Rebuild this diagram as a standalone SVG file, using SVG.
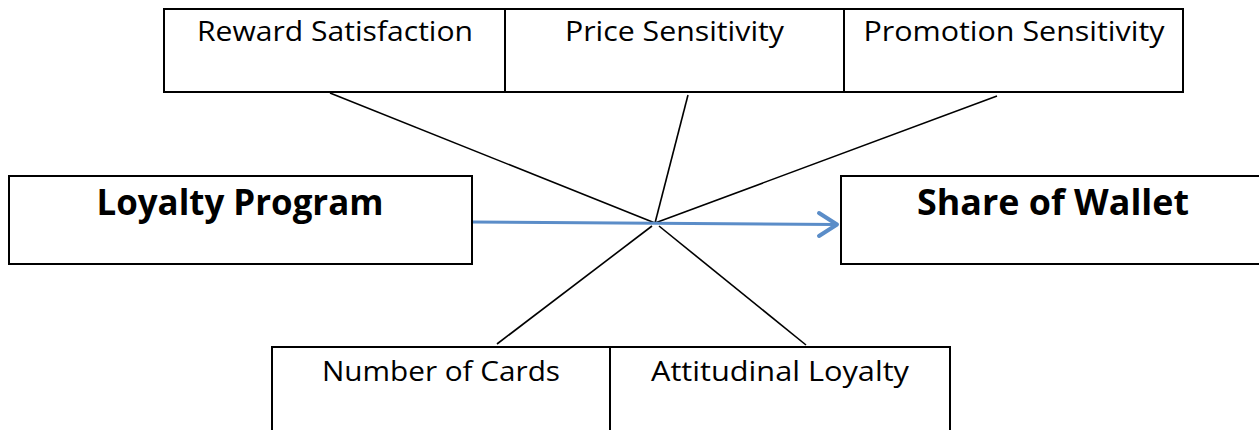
<svg xmlns="http://www.w3.org/2000/svg" width="1259" height="430" viewBox="0 0 1259 430">
  <style>
    .box { fill: #ffffff; stroke: #000000; stroke-width: 2; }
    .lbl { font-family: "Open Sans", "Liberation Sans", sans-serif; font-size: 28px; fill: #000000; text-anchor: middle; }
    .big { font-family: "Open Sans", "Liberation Sans", sans-serif; font-size: 36px; font-weight: bold; fill: #000000; text-anchor: middle; }
    .link { stroke: #000000; stroke-width: 1.6; fill: none; }
    .flow { stroke: #5B8DC8; stroke-width: 2.8; fill: none; }
    .head { stroke: #5B8DC8; stroke-width: 4; fill: none; stroke-linecap: round; stroke-linejoin: round; }
  </style>

  <!-- connectors: moderators meeting the main path -->
  <g id="connectors">
    <line class="link" x1="330" y1="93" x2="655" y2="223"/>
    <line class="link" x1="688" y1="95" x2="655" y2="223"/>
    <line class="link" x1="997" y1="96" x2="655" y2="223"/>
    <line class="link" x1="652" y1="226" x2="497" y2="344"/>
    <line class="link" x1="659" y1="226" x2="806" y2="345"/>
    <line class="flow" x1="472" y1="222" x2="836" y2="224.5"/>
    <polyline class="head" points="819,213 837,224.5 819,236"/>
  </g>

  <g id="reward-satisfaction">
    <rect class="box" x="164" y="9" width="341" height="83"/>
    <text class="lbl" x="335" y="41" textLength="276" lengthAdjust="spacingAndGlyphs">Reward Satisfaction</text>
  </g>
  <g id="price-sensitivity">
    <rect class="box" x="505" y="9" width="339" height="83"/>
    <text class="lbl" x="674.5" y="41" textLength="219" lengthAdjust="spacingAndGlyphs">Price Sensitivity</text>
  </g>
  <g id="promotion-sensitivity">
    <rect class="box" x="844" y="9" width="339" height="83"/>
    <text class="lbl" x="1014" y="41" textLength="301" lengthAdjust="spacingAndGlyphs">Promotion Sensitivity</text>
  </g>

  <g id="loyalty-program">
    <rect class="box" x="9" y="176" width="463" height="88"/>
    <text class="big" x="240" y="215" textLength="287" lengthAdjust="spacingAndGlyphs">Loyalty Program</text>
  </g>
  <g id="share-of-wallet">
    <rect class="box" x="841" y="176" width="424" height="88"/>
    <text class="big" x="1053" y="215" textLength="272" lengthAdjust="spacingAndGlyphs">Share of Wallet</text>
  </g>

  <g id="number-of-cards">
    <rect class="box" x="272" y="347" width="338" height="100"/>
    <text class="lbl" x="441" y="381" textLength="238" lengthAdjust="spacingAndGlyphs">Number of Cards</text>
  </g>
  <g id="attitudinal-loyalty">
    <rect class="box" x="610" y="347" width="340" height="100"/>
    <text class="lbl" x="780" y="381" textLength="258" lengthAdjust="spacingAndGlyphs">Attitudinal Loyalty</text>
  </g>
</svg>
